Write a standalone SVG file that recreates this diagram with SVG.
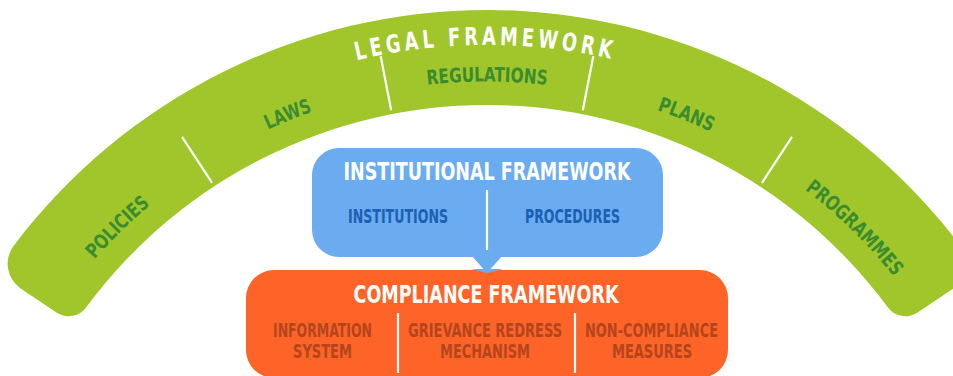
<svg xmlns="http://www.w3.org/2000/svg" width="953" height="376" viewBox="0 0 953 376">
<style>
.t{font-family:"Liberation Sans Narrow","DejaVu Sans Condensed","DejaVu Sans","Liberation Sans",sans-serif;font-weight:bold;font-stretch:condensed}
.title{fill:#ffffff;font-size:25px}
.arclbl{fill:#3b8c2f;font-size:20px}
.blbl{fill:#1c5fb3;font-size:20px}
.olbl{fill:#b4451d;font-size:19px}
.div{stroke:#ffffff;stroke-width:2.2;fill:none}
</style>
<defs>
<path id="arcTitle" d="M -67.4 505.3 A 564 564 0 0 1 1041.4 505.3"/>
<path id="arcLabel" d="M -26.6 512.5 A 521.5 521.5 0 0 1 1000.6 512.5"/>
</defs>
<rect width="953" height="376" fill="#ffffff"/>
<g id="legal-framework">
<path fill="#a0c62b" d="M 12.8 246.9 A 593 593 0 0 1 961.2 246.9 A 30 30 0 0 1 953.7 288.2 L 918 312.2 A 22 22 0 0 1 887.2 306.6 A 498 498 0 0 0 86.8 306.6 A 22 22 0 0 1 56 312.2 L 20.3 288.2 A 30 30 0 0 1 12.8 246.9 Z"/>
<line class="div" x1="212.1" y1="182.9" x2="182" y2="136.9"/>
<line class="div" x1="391.2" y1="110.2" x2="380.7" y2="56.2"/>
<line class="div" x1="582.8" y1="110.2" x2="593.3" y2="56.2"/>
<line class="div" x1="761.9" y1="182.9" x2="792" y2="136.9"/>
<text class="t title" font-size="24" letter-spacing="5" text-anchor="middle"><textPath href="#arcTitle" startOffset="780" textLength="260" lengthAdjust="spacingAndGlyphs">LEGAL FRAMEWORK</textPath></text>
<text class="t arclbl" text-anchor="middle"><textPath href="#arcLabel" startOffset="323.1" textLength="78" lengthAdjust="spacingAndGlyphs">POLICIES</textPath></text>
<text class="t arclbl" text-anchor="middle"><textPath href="#arcLabel" startOffset="526.1" textLength="48" lengthAdjust="spacingAndGlyphs">LAWS</textPath></text>
<text class="t arclbl" text-anchor="middle"><textPath href="#arcLabel" startOffset="728.2" textLength="120" lengthAdjust="spacingAndGlyphs">REGULATIONS</textPath></text>
<text class="t arclbl" text-anchor="middle"><textPath href="#arcLabel" startOffset="930.2" textLength="58" lengthAdjust="spacingAndGlyphs">PLANS</textPath></text>
<text class="t arclbl" text-anchor="middle"><textPath href="#arcLabel" startOffset="1132.3" textLength="125" lengthAdjust="spacingAndGlyphs">PROGRAMMES</textPath></text>
</g>
<g id="institutional-framework">
<rect x="312" y="148" width="351" height="109" rx="27" fill="#6aacef"/>
<text class="t title" x="487" y="180" text-anchor="middle" textLength="287" lengthAdjust="spacingAndGlyphs">INSTITUTIONAL FRAMEWORK</text>
<line class="div" x1="487" y1="190" x2="487" y2="250" stroke-width="2.5"/>
<text class="t blbl" x="398" y="223" text-anchor="middle" textLength="100" lengthAdjust="spacingAndGlyphs">INSTITUTIONS</text>
<text class="t blbl" x="572.5" y="223" text-anchor="middle" textLength="95" lengthAdjust="spacingAndGlyphs">PROCEDURES</text>
</g>
<g id="connectors">
<polygon points="471,255 503,255 487,273" fill="#6aacef"/>
</g>
<g id="compliance-framework">
<rect x="246" y="270" width="482" height="108" rx="28" fill="#fe6427"/>
<polygon points="471,269 503,269 487,273" fill="#6aacef"/>
<text class="t title" x="486" y="303" text-anchor="middle" textLength="265" lengthAdjust="spacingAndGlyphs">COMPLIANCE FRAMEWORK</text>
<line class="div" x1="398" y1="313" x2="398" y2="373" stroke-width="2.5"/>
<line class="div" x1="575" y1="313" x2="575" y2="373" stroke-width="2.5"/>
<text class="t olbl" x="322.5" y="337" text-anchor="middle" textLength="99" lengthAdjust="spacingAndGlyphs">INFORMATION</text>
<text class="t olbl" x="322.5" y="358" text-anchor="middle" textLength="59" lengthAdjust="spacingAndGlyphs">SYSTEM</text>
<text class="t olbl" x="485" y="337" text-anchor="middle" textLength="154" lengthAdjust="spacingAndGlyphs">GRIEVANCE REDRESS</text>
<text class="t olbl" x="485" y="358" text-anchor="middle" textLength="90" lengthAdjust="spacingAndGlyphs">MECHANISM</text>
<text class="t olbl" x="651.5" y="337" text-anchor="middle" textLength="133" lengthAdjust="spacingAndGlyphs">NON-COMPLIANCE</text>
<text class="t olbl" x="652" y="358" text-anchor="middle" textLength="80" lengthAdjust="spacingAndGlyphs">MEASURES</text>
</g>
</svg>
